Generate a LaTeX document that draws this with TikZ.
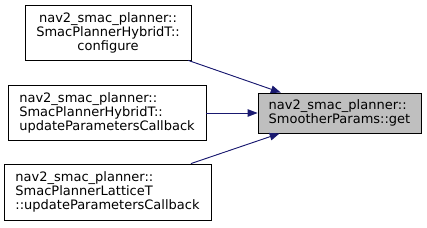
\documentclass[tikz,border=0pt]{standalone}
\usepackage{fontspec}
\setmainfont{DejaVu Sans}
\usetikzlibrary{arrows.meta}
\definecolor{edgeblue}{HTML}{191970}
\definecolor{hitgray}{HTML}{BFBFBF}

\begin{document}
\begin{tikzpicture}[
x=1pt,y=-1pt,
font=\fontsize{13}{14}\selectfont,
call/.style={-{Triangle[length=10pt,width=7.5pt]},draw=edgeblue,fill=edgeblue,line width=0.9pt},
fn/.style={draw,line width=0.8pt,fill=white,inner sep=0pt,align=left},
focus/.style={fn,fill=hitgray}
]
\useasboundingbox (0,0) rectangle (427,227);
\node[fn,align=center,minimum width=166,minimum height=55] (configure) at (108,32.5) {nav2\_smac\_planner::\\SmacPlannerHybridT::\\configure};
\node[fn,minimum width=198,minimum height=55] (hybridcb) at (107,113) {nav2\_smac\_planner::\\SmacPlannerHybridT::\\updateParametersCallback};
\node[fn,minimum width=207,minimum height=56] (latticecb) at (107.5,192) {nav2\_smac\_planner::\\SmacPlannerLatticeT\\::updateParametersCallback};
\node[focus,minimum width=163,minimum height=40] (get) at (339.5,113) {nav2\_smac\_planner::\\SmootherParams::get};

\foreach \src in {configure,hybridcb,latticecb}
 \draw[call] (\src) -- (get);
\end{tikzpicture}
\end{document}
